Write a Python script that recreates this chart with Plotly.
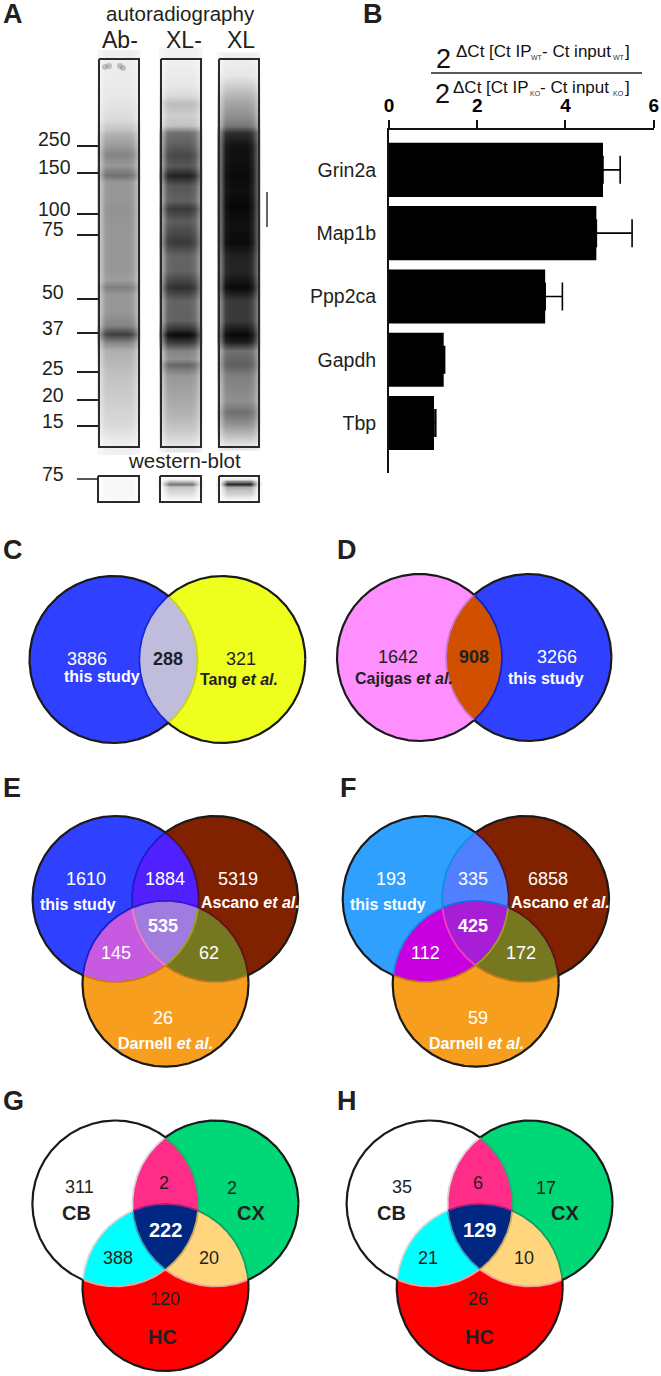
import numpy as np
import plotly.graph_objects as go

FONT = "Liberation Sans"
W, H = 661, 1376

# ---------- panel B data
genes = ["Grin2a", "Map1b", "Ppp2ca", "Gapdh", "Tbp"]
enrichment = [4.85, 4.70, 3.54, 1.24, 1.02]
enrichment_err = [0.39, 0.81, 0.39, 0.02, 0.04]
axis_ticks = [0, 2, 4, 6]

# ---------- panel A data (darkness 0-1 read down each lane)
mw_labels = ["250", "150", "100", "75", "50", "37", "25", "20", "15"]
lane_names = ["Ab-", "XL-", "XL"]
ab_y = [60, 80, 100, 120, 130, 135, 145, 154, 165, 175, 182, 195, 210, 235, 255, 270, 280, 287, 295, 310, 325, 334, 342, 350, 375, 400, 425, 445]
ab_d = [.07, .08, .10, .15, .25, .33, .40, .50, .42, .58, .42, .42, .44, .42, .42, .42, .40, .52, .42, .42, .50, .78, .50, .33, .25, .20, .15, .06]
xm_y = [60, 85, 95, 103, 115, 125, 132, 145, 154, 165, 175, 185, 200, 208, 220, 242, 255, 270, 287, 300, 320, 328, 334, 341, 350, 358, 364, 375, 400, 415, 430, 445]
xm_d = [.06, .10, .15, .27, .20, .25, .58, .66, .74, .68, .90, .68, .64, .80, .66, .80, .63, .63, .84, .63, .64, .82, 1.0, .82, .50, .45, .62, .42, .35, .30, .22, .10]
xl_y = [60, 75, 90, 100, 115, 125, 132, 145, 160, 175, 190, 205, 225, 242, 255, 270, 287, 300, 320, 328, 334, 341, 350, 364, 375, 400, 412, 425, 435, 445]
xl_d = [.07, .10, .25, .35, .45, .55, .85, .96, .97, .99, .97, 1.0, .97, .99, .90, .88, 1.0, .80, .80, .92, 1.0, .92, .58, .65, .52, .45, .58, .42, .26, .10]
lateral = [.6, .96, 1, 1, 1, 1, .92, .6]
wb_y = [479, 481, 484, 487, 490, 494, 498]
wb_ab = [.03, .03, .03, .03, .03, .03, .03]
wb_xm = [.05, .25, .55, .22, .18, .12, .05]
wb_xl = [.08, .45, .88, .35, .25, .18, .06]
wb_lateral = [.1, 1, 1, 1, 1, .1]

# ---------- venn data
c_counts = ["3886", "288", "321"]
d_counts = ["1642", "908", "3266"]
e_counts = ["1610", "1884", "5319", "535", "145", "62", "26"]
f_counts = ["193", "335", "6858", "425", "112", "172", "59"]
g_counts = ["311", "2", "2", "222", "388", "20", "120"]
h_counts = ["35", "6", "17", "129", "21", "10", "26"]

fig = go.Figure()
shapes, anns = [], []


def txt(x, y, s, size=18, color="#231f20", bold=False, anchor="center"):
    if bold:
        s = f"<b>{s}</b>"
    anns.append(dict(x=x, y=y, text=s, xref="x", yref="y", showarrow=False, xanchor=anchor,
                     yanchor="middle", borderpad=0, font=dict(family=FONT, size=size, color=color)))


def line(x0, y0, x1, y1, color="#231f20", width=2):
    fig.add_trace(go.Scatter(x=[x0, x1], y=[y0, y1], mode="lines", line=dict(color=color, width=width),
                             hoverinfo="skip", showlegend=False))


GRAY = [[0, "#ffffff"], [1, "#080808"]]


def lane(x0, x1, ys, dark, lat, zmax=1):
    xs = np.linspace(x0, x1, len(lat))
    z = np.outer(dark, lat)
    fig.add_trace(go.Heatmap(x=xs, y=ys, z=z, zmin=0, zmax=zmax, zsmooth="best", colorscale=GRAY,
                             showscale=False, hoverinfo="skip"))


def box(x0, y0, x1, y1, width=2):
    fig.add_trace(go.Scatter(x=[x0, x1, x1, x0, x0], y=[y0, y0, y1, y1, y0], mode="lines",
                             line=dict(color="#2a2a2a", width=width), hoverinfo="skip", showlegend=False))


# ---------- panel A
lane_x = [(100, 138), (162, 200), (220, 258)]
for (a, b), ys, ds in zip(lane_x, [ab_y, xm_y, xl_y], [ab_d, xm_d, xl_d]):
    lane(a, b, ys, ds, lateral)
    box(a - 1, 59, b + 1, 447)
fig.add_trace(go.Scatter(x=[105, 109, 120, 123], y=[67, 66, 66, 68], mode="markers",
                         marker=dict(size=6, color="#777777", opacity=0.4, line=dict(width=0)),
                         hoverinfo="skip", showlegend=False))
wb_x = [(98, 139), (160, 201), (219, 259)]
for (a, b), ds in zip(wb_x, [wb_ab, wb_xm, wb_xl]):
    lane(a + 1, b - 1, wb_y, ds, wb_lateral)
    box(a, 476, b, 502)
mw_y = [146, 173, 214, 235, 299, 333, 372, 400, 426]
mw_ty = [139, 167, 209, 229, 292, 328, 368, 395, 421]
mw_tx = [72, 72, 72, 65, 65, 65, 65, 65, 65]
for y, ty, tx, s in zip(mw_y, mw_ty, mw_tx, mw_labels):
    line(77, y, 98, y)
    txt(tx, ty, s, 19.5, anchor="right")
line(77, 479, 98, 479, width=1.5)
txt(65, 474, "75", 19.5, anchor="right")
line(267, 192, 267, 227, "#333333", 1.5)
txt(180, 13, "autoradiography", 20.5)
for x, s in zip([120, 184, 241], lane_names):
    txt(x, 40, s, 23)
txt(184, 460, "western-blot", 20.5)

# ---------- panel B
fig.add_trace(go.Bar(x=enrichment, y=list(range(len(genes))), orientation="h", width=0.855,
                     marker=dict(color="#000000", line=dict(width=0)), xaxis="x2", yaxis="y2",
                     error_x=dict(type="data", symmetric=False, array=enrichment_err,
                                  arrayminus=[0] * 5, color="#000000", thickness=1.6, width=14),
                     hoverinfo="skip", showlegend=False))
txt(443, 59, "2", 27, "#111111")
txt(442, 94, "2", 27, "#111111")
line(431, 73, 642, 73, "#222222", 1.5)
for y, suby, sub, x1, x2, x3, xs1 in [(51, 57, "WT", 455, 541, 612, 530), (87, 93, "KO", 452, 539, 612, 529)]:
    txt(x1, y, "\u0394Ct [Ct IP", 17, "#111111", anchor="left")
    txt(xs1, suby, sub, 7, "#333333", anchor="left")
    txt(x2, y, "- Ct input", 17, "#111111", anchor="left")
    txt(x3, suby, sub, 7, "#333333", anchor="left")
    txt(631, y, "]", 17, "#111111", anchor="right")


# ---------- venn helpers
def ell(cx, cy, rx, ry, n=360):
    t = np.linspace(0, 2 * np.pi, n, endpoint=False)
    return np.c_[cx + rx * np.cos(t), cy + ry * np.sin(t)]


def clip(poly, c):
    """Intersect a polygon with a convex ellipse by half-plane clipping."""
    cl = ell(*c, 180)
    out = poly
    for i in range(len(cl)):
        a, b = cl[i], cl[(i + 1) % len(cl)]
        n = np.array([-(b - a)[1], (b - a)[0]])
        if np.dot(np.array(c[:2]) - a, n) < 0:
            n = -n
        res = []
        for j in range(len(out)):
            p, q = out[j], out[(j + 1) % len(out)]
            dp, dq = np.dot(p - a, n), np.dot(q - a, n)
            if dp >= 0:
                res.append(p)
            if dp * dq < 0:
                res.append(p + (q - p) * dp / (dp - dq))
        out = np.array(res)
        if len(out) == 0:
            break
    return out


def fill(poly, color):
    xs = list(poly[:, 0]) + [poly[0, 0]]
    ys = list(poly[:, 1]) + [poly[0, 1]]
    fig.add_trace(go.Scatter(x=xs, y=ys, mode="lines", line=dict(width=0, color=color), fill="toself",
                             fillcolor=color, hoverinfo="skip", showlegend=False))


def inside(pts, c):
    return ((pts[:, 0] - c[0]) / c[2]) ** 2 + ((pts[:, 1] - c[1]) / c[3]) ** 2 < 1


def arcs(es, strokes, outline="#1a1a1a", w_out=2.2, w_in=1.8):
    groups = {}
    for i, e in enumerate(es):
        pts = ell(*e, 720)
        others = [j for j in range(len(es)) if j != i]
        flags = np.array([inside(pts, es[j]) for j in others])
        for k in range(len(pts)):
            key = tuple(o for o, f in zip(others, flags[:, k]) if f)
            col = strokes.get((i, key), outline) if key else outline
            wid = w_in if key else w_out
            groups.setdefault((col, wid), []).append((pts[k], pts[(k + 1) % len(pts)]))
    for (col, wid), segs in sorted(groups.items(), key=lambda kv: kv[0][0] == outline):
        xs, ys = [], []
        for p, q in segs:
            if xs and xs[-1] == p[0] and ys[-1] == p[1]:
                xs.append(q[0]); ys.append(q[1])
            else:
                xs += [None, p[0], q[0]]; ys += [None, p[1], q[1]]
        fig.add_trace(go.Scatter(x=xs, y=ys, mode="lines", line=dict(color=col, width=wid),
                                 hoverinfo="skip", showlegend=False, connectgaps=False))


def venn2(a, b, ca, cb, cab, strokes):
    fill(ell(*a), ca)
    fill(ell(*b), cb)
    fill(clip(ell(*a), b), cab)
    arcs([a, b], strokes)


def venn3(a, b, c, cols, strokes):
    fill(ell(*a), cols[0])
    fill(ell(*b), cols[1])
    fill(ell(*c), cols[2])
    ab = clip(ell(*a), b)
    fill(ab, cols[3])
    fill(clip(ell(*a), c), cols[4])
    fill(clip(ell(*b), c), cols[5])
    fill(clip(ab, c), cols[6])
    arcs([a, b, c], strokes)


BLUE, YEL, PINK, BROWN, ORNG, SKY = "#3040ff", "#eeff1e", "#ff8fff", "#802200", "#f89e1e", "#30a0ff"
# C
venn2((113.5, 659.5, 84, 83.5), (222.3, 659.5, 83, 83.5), BLUE, YEL, "#bfbcdc",
      {(0, (1,)): "#c8d020", (1, (0,)): "#1a28d0"})
# D
venn2((419.5, 657.5, 82.5, 83.5), (528.7, 657.5, 82.7, 83.5), PINK, BLUE, "#d05000",
      {(0, (1,)): "#1020c0", (1, (0,)): "#c878d0"})
# E, F
ys3 = (899, 983.7)
venn3((115.6, ys3[0], 83, 83), (215, ys3[0], 83, 83), (165.5, ys3[1], 83, 83),
      [BLUE, BROWN, ORNG, "#5020ff", "#c65ae0", "#767820", "#a07cde"],
      {(0, (1,)): "#501030", (0, (2,)): "#c87818", (0, (1, 2)): "#a0a020",
       (1, (0,)): "#1c1cc8", (1, (2,)): "#c07818", (1, (0, 2)): "#f080c0",
       (2, (0,)): "#1c1cc8", (2, (1,)): "#601020", (2, (0, 1)): "#4010d0"})
venn3((425.7, ys3[0], 83, 83), (525.5, ys3[0], 83.5, 83), (475.7, ys3[1], 83, 83),
      [SKY, BROWN, ORNG, "#5080ff", "#c800e0", "#767820", "#a81ed6"],
      {(0, (1,)): "#501030", (0, (2,)): "#c07818", (0, (1, 2)): "#a0a020",
       (1, (0,)): "#1090e0", (1, (2,)): "#c07818", (1, (0, 2)): "#f040c0",
       (2, (0,)): "#1090e0", (2, (1,)): "#601020", (2, (0, 1)): "#1070e0"})
# G, H
GCOLS = ["#ffffff", "#00d878", "#ff0000", "#ff2d87", "#00ffff", "#ffd67d", "#002882"]
GSTR = {(0, (1,)): "#20b070", (0, (2,)): "#f0a0a0", (0, (1, 2)): "#c8a860",
        (1, (0,)): "#d8d8d8", (1, (2,)): "#f0a0a0", (1, (0, 2)): "#40a0c0",
        (2, (0,)): "#d8d8d8", (2, (1,)): "#10a060", (2, (0, 1)): "#a02080"}
venn3((115.4, 1203.5, 83, 83), (215.4, 1203.5, 83, 83), (165.5, 1287.5, 83, 83.5), GCOLS, GSTR)
venn3((429.6, 1203.5, 83, 83), (530, 1203.5, 82.5, 83), (479.7, 1287.5, 83, 83.5), GCOLS, GSTR)

# ---------- venn text
WHITE, DARK = "#ffffff", "#231f20"
for x, y, s, col, b in zip([86.7, 168.3, 241], [659] * 3, c_counts, [WHITE, DARK, DARK], [0, 1, 0]):
    txt(x, y, s, 18, col, bool(b))
txt(102.4, 676.5, "this study", 16, WHITE, True)
txt(238.5, 679, "Tang <i>et al.</i>", 16, DARK, True)
for x, y, s, col, b in zip([398, 474.4, 557], [657] * 3, d_counts, [DARK, DARK, WHITE], [0, 1, 0]):
    txt(x, y, s, 18, col, bool(b))
txt(403.5, 678, "Cajigas <i>et al.</i>", 16, DARK, True)
txt(546, 678, "this study", 16, WHITE, True)

ey = [879, 879, 879, 926, 953, 953, 1017.7]
for xs, cts in [([86.3, 164.5, 237.6, 162.8, 115.9, 208.9, 163.2], e_counts),
                ([391, 473, 548, 473, 425.8, 521, 477.8], f_counts)]:
    for i, (x, y, s) in enumerate(zip(xs, ey, cts)):
        txt(x, y, s, 18, WHITE, i == 3)
for dx in [(77.5, 250, 165.8), (388, 560, 476.5)]:
    txt(dx[0], 904.7, "this study", 16, WHITE, True)
    txt(dx[1], 902.7, "Ascano <i>et al.</i>", 16, WHITE, True)
    txt(dx[2], 1043, "Darnell <i>et al.</i>", 16, WHITE, True)

gy = [1187, 1183.3, 1187.7, 1230, 1258, 1258, 1299.3]
for xs, cts in [([79, 164, 232, 165, 117.5, 208.9, 165], g_counts),
                ([402, 477.8, 546.3, 479, 428.3, 524, 477.8], h_counts)]:
    for i, (x, y, s) in enumerate(zip(xs, gy, cts)):
        if i == 3:
            txt(x, y, s, 20, WHITE, True)
        else:
            txt(x, y, s, 18, DARK)
for cb, cx, hc in [(76.5, 250.7, 162.8), (391, 565.3, 479.5)]:
    txt(cb, 1213.3, "CB", 20, DARK, True)
    txt(cx, 1213.3, "CX", 20, DARK, True)
    txt(hc, 1336.7, "HC", 20, DARK, True)

# ---------- panel letters
for x, y, s in [(2, 14, "A"), (362, 14, "B"), (2, 550, "C"), (336, 550, "D"),
                (2, 788, "E"), (339, 788, "F"), (2, 1101, "G"), (336, 1101, "H")]:
    txt(x, y, s, 27, DARK, True, anchor="left")

fig.update_layout(
    width=W, height=H, margin=dict(l=0, r=0, t=0, b=0, pad=0, autoexpand=False),
    paper_bgcolor="#ffffff", plot_bgcolor="rgba(0,0,0,0)",
    showlegend=False, annotations=anns,
    xaxis=dict(range=[0, W], domain=[0, 1], visible=False, fixedrange=True),
    yaxis=dict(range=[H, 0], domain=[0, 1], visible=False, fixedrange=True),
    xaxis2=dict(domain=[389 / W, 653.7 / W], range=[0, 6], anchor="y2", side="top", tickvals=axis_ticks,
                ticks="outside", ticklen=8, tickwidth=2, tickcolor="#111111", showline=True, linewidth=2,
                linecolor="#111111", showgrid=False, zeroline=False,
                tickfont=dict(family=FONT, size=19, color="#000000", weight="bold")),
    yaxis2=dict(domain=[1 - 473 / H, 1 - 130 / H], range=[4.79, -0.63], anchor="x2",
                tickvals=list(range(5)), ticktext=genes, ticks="", showline=True, linewidth=2,
                linecolor="#111111", showgrid=False, zeroline=False, ticklabelstandoff=7,
                tickfont=dict(family=FONT, size=19.5, color="#231f20")),
)
fig.write_html("out.html", config={"displayModeBar": False},
               post_script="document.body.style.margin='0';document.body.style.overflow='hidden';")
